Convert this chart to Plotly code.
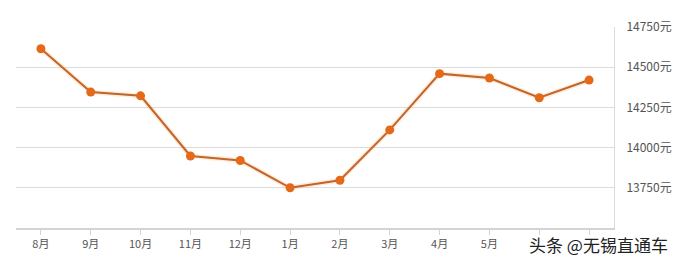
import plotly.graph_objects as go

months = ["8月", "9月", "10月", "11月", "12月", "1月", "2月", "3月", "4月", "5月", "6月", "7月"]
prices = [14615, 14345, 14322, 13948, 13920, 13750, 13797, 14110, 14460, 14433, 14310, 14420]
y_ticks = [13750, 14000, 14250, 14500, 14750]
y_tick_text = [f"{v}元" for v in y_ticks]
# last two month labels are covered by the watermark in the reference
x_tick_text = [m if i < 10 else "" for i, m in enumerate(months)]

fig = go.Figure()
# soft glow under the line
fig.add_trace(go.Scatter(
    x=months, y=prices, mode="lines",
    line=dict(color="rgba(255,180,110,0.25)", width=5),
    hoverinfo="skip", showlegend=False,
))
fig.add_trace(go.Scatter(
    x=months, y=prices, mode="lines+markers",
    line=dict(color="#c1652a", width=2),
    marker=dict(color="#e5691a", size=9, line=dict(width=0)),
    showlegend=False,
))

fig.update_layout(
    width=676, height=262,
    margin=dict(l=16, r=62, t=27, b=34, autoexpand=False),
    paper_bgcolor="white", plot_bgcolor="white",
    font=dict(family="Noto Sans CJK SC, sans-serif", color="#555555"),
    xaxis=dict(
        type="category",
        range=[-0.5, len(months) - 0.5],
        tickmode="array", tickvals=months, ticktext=x_tick_text,
        showgrid=False,
        showline=True, linecolor="#d4d4d4", linewidth=2,
        ticks="outside", ticklen=5, tickcolor="#d4d4d4",
        tickfont=dict(size=11, color="#555555"),
        zeroline=False, automargin=False,
    ),
    yaxis=dict(
        side="right",
        range=[13500, 14750],
        tickmode="array", tickvals=y_ticks, ticktext=y_tick_text,
        showgrid=True, gridcolor="#dcdcdc", gridwidth=1,
        showline=True, linecolor="#dcdcdc", linewidth=1,
        ticks="", ticklabelstandoff=9,
        tickfont=dict(size=12, color="#555555"),
        zeroline=False, automargin=False,
    ),
    annotations=[dict(
        text="头条 @无锡直通车", xref="paper", yref="paper",
        x=1.0, y=-0.08, xanchor="right", yanchor="middle",
        xshift=56, showarrow=False,
        font=dict(size=17, color="#222222", family="Noto Sans CJK SC, sans-serif"),
    )],
)

fig.write_html("out.html")
